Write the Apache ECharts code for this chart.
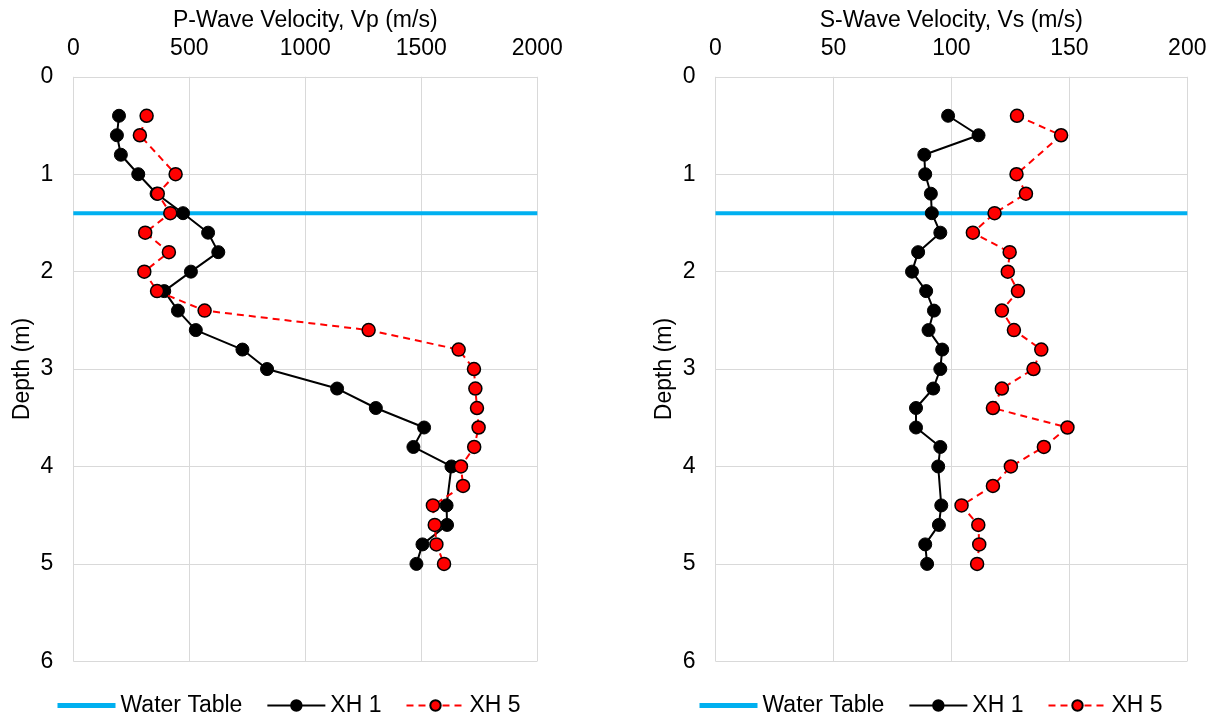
<!DOCTYPE html>
<html>
<head>
<meta charset="utf-8">
<script src="https://cdn.jsdelivr.net/npm/echarts@6/dist/echarts.min.js"></script>
<style>
  html, body { margin: 0; padding: 0; background: #fff; }
  #chart { width: 1213px; height: 717px; }
</style>
</head>
<body>
<div id="chart"></div>
<script>
// Depths (m) at which each borehole was sampled
const depthsXH1 = [0.4, 0.6, 0.8, 1.0, 1.2, 1.4, 1.6, 1.8, 2.0, 2.2, 2.4, 2.6, 2.8, 3.0, 3.2, 3.4, 3.6, 3.8, 4.0, 4.4, 4.6, 4.8, 5.0];
const depthsXH5 = [0.4, 0.6, 1.0, 1.2, 1.4, 1.6, 1.8, 2.0, 2.2, 2.4, 2.6, 2.8, 3.0, 3.2, 3.4, 3.6, 3.8, 4.0, 4.2, 4.4, 4.6, 4.8, 5.0];

// P-wave velocity (m/s)
const vpXH1 = [197, 188, 205, 280, 359, 473, 581, 625, 507, 392, 451, 528, 729, 835, 1137, 1304, 1512, 1466, 1630, 1609, 1611, 1505, 1479];
const vpXH5 = [316, 287, 441, 364, 418, 310, 412, 306, 361, 566, 1273, 1661, 1727, 1733, 1740, 1747, 1728, 1671, 1680, 1550, 1558, 1565, 1598];

// S-wave velocity (m/s)
const vsXH1 = [98.6, 111.5, 88.5, 88.9, 91.3, 91.7, 95.3, 85.9, 83.3, 89.3, 92.6, 90.3, 96.1, 95.3, 92.3, 85.0, 85.0, 95.3, 94.4, 95.7, 94.7, 88.9, 89.7];
const vsXH5 = [127.8, 146.5, 127.6, 131.6, 118.3, 109.1, 124.7, 123.9, 128.2, 121.4, 126.5, 138.1, 134.8, 121.4, 117.6, 149.2, 139.2, 125.2, 117.6, 104.3, 111.4, 111.8, 110.9];

// Water table depth (m)
const waterTableDepth = 1.4;

// Axis ranges: [min, max, interval]
const vpRange = [0, 2000, 500];
const vsRange = [0, 200, 50];
const depthRange = [0, 6, 1];

const FONT = "'Liberation Sans', Arial, sans-serif";
const FONT_SIZE = 23;
const TEXT_COLOR = '#000';
const GRID_COLOR = '#d9d9d9';
const plain = v => String(v);

function pairs(vals, depths) {
  return vals.map((v, i) => [v, depths[i]]);
}

function xAxis(gridIndex, name, range) {
  return {
    gridIndex, type: 'value', position: 'top',
    min: range[0], max: range[1], interval: range[2],
    name, nameLocation: 'middle', nameGap: 44,
    nameTextStyle: { fontFamily: FONT, fontSize: FONT_SIZE, color: TEXT_COLOR },
    axisLine: { show: false }, axisTick: { show: false },
    axisLabel: { fontFamily: FONT, fontSize: FONT_SIZE, color: TEXT_COLOR, margin: 17, formatter: plain },
    splitLine: { show: true, lineStyle: { color: GRID_COLOR, width: 1 } }
  };
}

function yAxis(gridIndex) {
  return {
    gridIndex, type: 'value', inverse: true,
    min: depthRange[0], max: depthRange[1], interval: depthRange[2],
    name: 'Depth (m)', nameLocation: 'middle', nameGap: 39, nameRotate: 90,
    nameTextStyle: { fontFamily: FONT, fontSize: FONT_SIZE, color: TEXT_COLOR },
    axisLine: { show: false }, axisTick: { show: false },
    axisLabel: { fontFamily: FONT, fontSize: FONT_SIZE, color: TEXT_COLOR, margin: 20, formatter: plain },
    splitLine: { show: true, lineStyle: { color: GRID_COLOR, width: 1 } }
  };
}

function seriesFor(idx, xMax, xh1, xh5) {
  return [
    {
      name: 'Water Table', type: 'line', xAxisIndex: idx, yAxisIndex: idx,
      data: [[0, waterTableDepth], [xMax, waterTableDepth]],
      symbol: 'none', lineStyle: { color: '#00b0f0', width: 4 }, itemStyle: { color: '#00b0f0' },
      z: 2
    },
    {
      name: 'XH 1', type: 'line', xAxisIndex: idx, yAxisIndex: idx,
      data: pairs(xh1, depthsXH1),
      symbol: 'circle', symbolSize: 13,
      lineStyle: { color: '#000', width: 2 },
      itemStyle: { color: '#000', borderColor: '#000', borderWidth: 1 },
      z: 3
    },
    {
      name: 'XH 5', type: 'line', xAxisIndex: idx, yAxisIndex: idx,
      data: pairs(xh5, depthsXH5),
      symbol: 'circle', symbolSize: 13,
      lineStyle: { color: '#ff0000', width: 2, type: [7, 5] },
      itemStyle: { color: '#ff0000', borderColor: '#000', borderWidth: 1.5 },
      z: 4
    }
  ];
}

function legend(left) {
  return {
    left, top: 694, orient: 'horizontal', padding: 0,
    itemWidth: 58, itemHeight: 13, itemGap: 24,
    data: [
      { name: 'Water Table', itemStyle: { color: 'rgba(0,0,0,0)', borderWidth: 0, opacity: 0 }, lineStyle: { width: 5 } },
      'XH 1',
      'XH 5'
    ],
    textStyle: { fontFamily: FONT, fontSize: FONT_SIZE, color: TEXT_COLOR },
    selectedMode: false
  };
}

const chart = echarts.init(document.getElementById('chart'), null, { renderer: 'canvas' });
chart.setOption({
  animation: false,
  backgroundColor: '#fff',
  grid: [
    { left: 73.3, right: 675.7, top: 76.8, bottom: 55.7, containLabel: false, outerBoundsMode: 'none' },
    { left: 715.5, right: 25.7, top: 76.8, bottom: 55.7, containLabel: false, outerBoundsMode: 'none' }
  ],
  xAxis: [
    xAxis(0, 'P-Wave Velocity, Vp (m/s)', vpRange),
    xAxis(1, 'S-Wave Velocity, Vs (m/s)', vsRange)
  ],
  yAxis: [yAxis(0), yAxis(1)],
  legend: [legend(55), legend(697)],
  series: [
    ...seriesFor(0, vpRange[1], vpXH1, vpXH5),
    ...seriesFor(1, vsRange[1], vsXH1, vsXH5)
  ]
});
</script>
</body>
</html>
